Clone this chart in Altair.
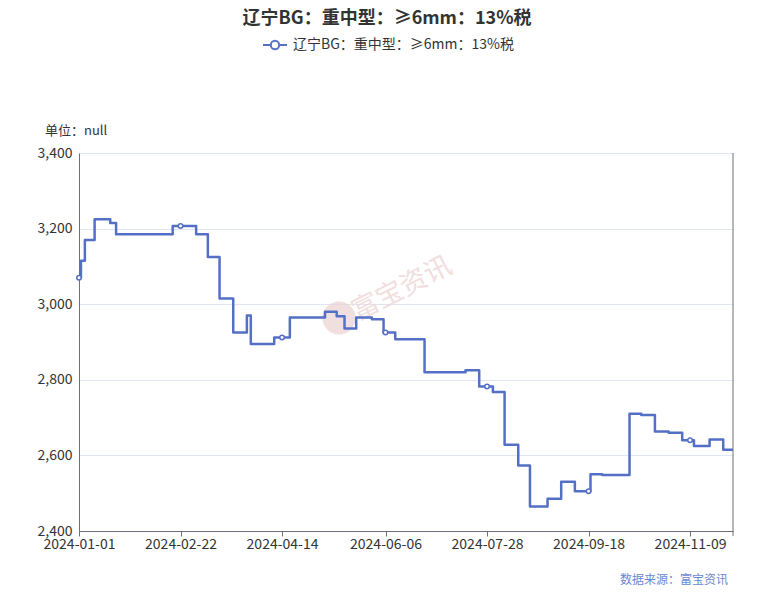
import altair as alt
import pandas as pd

TITLE = "辽宁BG：重中型：≥6mm：13%税"
UNIT = "单位：null"
SOURCE = "数据来源：富宝资讯"
WATERMARK = "富宝资讯"

change_dates = [
    "2024-01-01", "2024-01-02", "2024-01-04", "2024-01-09", "2024-01-17", "2024-01-20",
    "2024-02-18", "2024-03-01", "2024-03-07", "2024-03-13", "2024-03-20", "2024-03-27",
    "2024-03-29", "2024-04-10", "2024-04-18", "2024-05-06", "2024-05-12", "2024-05-16",
    "2024-05-22", "2024-05-30", "2024-06-05", "2024-06-11", "2024-06-26", "2024-07-17",
    "2024-07-24", "2024-07-31", "2024-08-06", "2024-08-13", "2024-08-19", "2024-08-28",
    "2024-09-04", "2024-09-11", "2024-09-19", "2024-09-25", "2024-10-09", "2024-10-15",
    "2024-10-22", "2024-10-29", "2024-11-05", "2024-11-11", "2024-11-19", "2024-11-26",
    "2024-12-01",
]
change_values = [
    3070, 3115, 3170, 3225, 3215, 3185,
    3207, 3185, 3125, 3015, 2925, 2970,
    2895, 2912, 2965, 2980, 2968, 2936,
    2965, 2960, 2925, 2907, 2820, 2825,
    2782, 2768, 2628, 2573, 2465, 2485,
    2530, 2505, 2550, 2548, 2710, 2707,
    2663, 2660, 2640, 2625, 2642, 2615,
    2615,
]
tick_dates = ["2024-01-01", "2024-02-22", "2024-04-14", "2024-06-06",
              "2024-07-28", "2024-09-18", "2024-11-09"]
domain_dates = ["2024-01-01", "2024-12-01"]
y_ticks = [2400, 2600, 2800, 3000, 3200, 3400]

BLUE = "#5470C6"
FONT = "Noto Sans CJK SC"
W, H = 654, 378

line_df = pd.DataFrame({"date": pd.to_datetime(change_dates), "value": change_values})
mk = pd.merge_asof(pd.DataFrame({"date": pd.to_datetime(tick_dates)}), line_df, on="date")
mk["date"] = mk["date"].dt.strftime("%Y-%m-%d")
line_df["date"] = line_df["date"].dt.strftime("%Y-%m-%d")


def dt(s):
    y, m, d = (int(p) for p in s.split("-"))
    return alt.DateTime(year=y, month=m, date=d, utc=True)


xscale = alt.Scale(type="utc", domain=[dt(s) for s in domain_dates])
yscale = alt.Scale(domain=[y_ticks[0], y_ticks[-1]], nice=False, zero=False)

x_enc = alt.X(
    "date:T", scale=xscale, title=None,
    axis=alt.Axis(values=[dt(s) for s in tick_dates], format="%Y-%m-%d",
                  labelFlush=False, labelOverlap=False, grid=False,
                  domainColor="#6E7079", tickColor="#6E7079", tickSize=5,
                  labelColor="#333333", labelFontSize=14, labelPadding=1,
                  labelFont=FONT),
)
y_enc = alt.Y(
    "value:Q", scale=yscale, title=None,
    axis=alt.Axis(values=y_ticks, format=",.0f", grid=True, gridColor="#E0E6F1",
                  domainColor="#6E7079", tickSize=0, labelPadding=7,
                  labelColor="#333333", labelFontSize=14, labelFont=FONT),
)

base = alt.Chart(line_df)

line = base.mark_line(interpolate="step-after", color=BLUE, strokeWidth=2.5,
                      strokeJoin="round").encode(x=x_enc, y=y_enc)

points = alt.Chart(mk).mark_point(shape="circle", filled=True, fill="white",
                                  stroke=BLUE, strokeWidth=1.5, size=20,
                                  opacity=1).encode(
    x=alt.X("date:T", scale=xscale), y=alt.Y("value:Q", scale=yscale))

ann = pd.DataFrame({"t": [TITLE]})

wm_logo = alt.Chart(ann).mark_point(shape="circle", filled=True, color="#EBD2D2",
                                    opacity=0.7, size=1100).encode(
    x=alt.value(339 - 79), y=alt.value(318 - 153))
wm_text = alt.Chart(pd.DataFrame({"t": [WATERMARK]})).mark_text(
    font=FONT, fontSize=27, color="#EED6D6", angle=333, opacity=0.8).encode(
    x=alt.value(402 - 79), y=alt.value(289 - 153), text="t:N")

right_line = alt.Chart(ann).mark_rule(color="#6E7079", strokeWidth=1).encode(
    x=alt.value(W), y=alt.value(0), y2=alt.value(H + 5))

title = alt.Chart(ann).mark_text(font=FONT, fontSize=18, fontWeight="bold",
                                 color="#333333", align="center",
                                 baseline="middle").encode(
    x=alt.value(387 - 79), y=alt.value(19 - 153), text="t:N")

leg_line = alt.Chart(ann).mark_rule(color=BLUE, strokeWidth=2).encode(
    x=alt.value(263 - 79), x2=alt.value(287 - 79), y=alt.value(45 - 153))
leg_pt = alt.Chart(ann).mark_point(shape="circle", filled=True, fill="white",
                                   stroke=BLUE, strokeWidth=2, size=70,
                                   opacity=1).encode(
    x=alt.value(275 - 79), y=alt.value(45 - 153))
leg_text = alt.Chart(ann).mark_text(font=FONT, fontSize=14, color="#333333",
                                    align="left", baseline="middle").encode(
    x=alt.value(293 - 79), y=alt.value(45 - 153), text="t:N")

unit = alt.Chart(pd.DataFrame({"t": [UNIT]})).mark_text(
    font=FONT, fontSize=13, color="#333333", align="left",
    baseline="middle").encode(x=alt.value(45 - 79), y=alt.value(131 - 153), text="t:N")

source = alt.Chart(pd.DataFrame({"t": [SOURCE]})).mark_text(
    font=FONT, fontSize=12, color="#6A86D3", align="right",
    baseline="middle").encode(x=alt.value(728 - 79), y=alt.value(580 - 153), text="t:N")

chart = alt.layer(
    wm_logo, wm_text, line, points, right_line, title, leg_line, leg_pt,
    leg_text, unit, source,
).properties(
    width=W, height=H,
    autosize=alt.AutoSizeParams(type="none"),
    padding={"left": 71, "top": 145, "right": 32, "bottom": 59},
    background="white",
).configure_view(strokeWidth=0)

chart.save("out.html", embed_options={"renderer": "svg", "actions": False})
